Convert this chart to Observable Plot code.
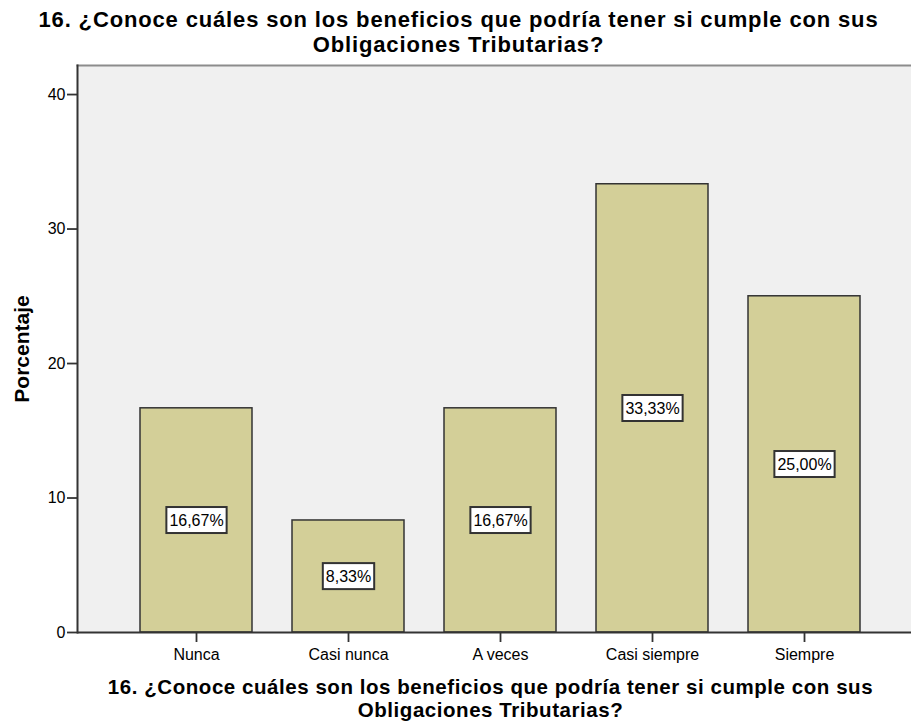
<!DOCTYPE html>
<html>
<head>
<meta charset="utf-8">
<script src="https://cdn.jsdelivr.net/npm/d3@7"></script>
<script src="https://cdn.jsdelivr.net/npm/@observablehq/plot@0.6"></script>
<style>
  html, body { margin: 0; padding: 0; background: #ffffff; }
  #chart svg { display: block; }
  #chart svg g[aria-label="x-axis tick"], #chart svg g[aria-label="y-axis tick"] { stroke: #333333; stroke-width: 1.8; }
</style>
</head>
<body>
<div id="chart"></div>
<script>
const categories = ["Nunca", "Casi nunca", "A veces", "Casi siempre", "Siempre"];
const percentages = [16.67, 8.33, 16.67, 33.33, 25.00];
const yTicks = [0, 10, 20, 30, 40];
const titleLines = ["16. ¿Conoce cuáles son los beneficios que podría tener si cumple con sus", "Obligaciones Tributarias?"];
const yLabel = "Porcentaje";

const data = categories.map((c, i) => ({cat: c, pct: percentages[i]}));
const fmt = v => v.toFixed(2).replace(".", ",") + "%";
const FONT = "'Liberation Sans', Arial, Helvetica, sans-serif";

const chart = Plot.plot({
  width: 911,
  height: 722,
  marginTop: 65,
  marginBottom: 90,
  marginLeft: 77,
  marginRight: 0,
  style: {fontFamily: FONT, fontSize: "16px", background: "#ffffff", color: "#000000"},
  x: {domain: categories, range: [119, 881], paddingInner: 0.26, paddingOuter: 0.13, label: null, tickSize: 10, tickPadding: 6},
  y: {domain: [0, 42.16], ticks: yTicks, label: null, tickSize: 10, tickPadding: 2},
  marks: [
    Plot.frame({fill: "#f0f0f0", stroke: null}),
    Plot.frame({anchor: "top", stroke: "#8c8c8c", strokeWidth: 2}),
    Plot.barY(data, {x: "cat", y: "pct", fill: "#d3cf98", stroke: "#333333", strokeWidth: 1.5}),
    Plot.ruleY([0], {stroke: "#333333", strokeWidth: 2}),
    Plot.frame({anchor: "left", stroke: "#333333", strokeWidth: 2}),
    Plot.text(data, {x: "cat", y: d => d.pct / 2, text: d => fmt(d.pct), fontSize: 16, fill: "#000000"}),
    Plot.text([titleLines[0]], {frameAnchor: "top", lineAnchor: "bottom", dx: -36, dy: -39, fontSize: 22, fontWeight: "bold", fill: "#000000", className: "ttl-top"}),
    Plot.text([titleLines[1]], {frameAnchor: "top", lineAnchor: "bottom", dx: -36, dy: -14, fontSize: 22, fontWeight: "bold", fill: "#000000", className: "ttl-top"}),
    Plot.text([titleLines[0]], {frameAnchor: "bottom", lineAnchor: "bottom", dx: -4, dy: 61, fontSize: 20.5, fontWeight: "bold", fill: "#000000", className: "ttl-bot"}),
    Plot.text([titleLines[1]], {frameAnchor: "bottom", lineAnchor: "bottom", dx: -4, dy: 84, fontSize: 20.5, fontWeight: "bold", fill: "#000000", className: "ttl-bot"}),
    Plot.text([yLabel], {frameAnchor: "left", textAnchor: "middle", dx: -55, rotate: -90, fontSize: 21, fontWeight: "bold", fill: "#000000"})
  ]
});

document.getElementById("chart").appendChild(chart);

// Slight letter spacing for the wide SPSS-style titles
Array.from(chart.querySelectorAll("text"))
  .filter(t => t.textContent.indexOf("Conoce") >= 0 || t.textContent.indexOf("Obligaciones") >= 0)
  .forEach(t => {
    const fs = parseFloat(t.closest("g").getAttribute("font-size") || "20");
    t.setAttribute("letter-spacing", fs > 21 ? "0.85" : "0.55");
  });

// White boxes with dark border behind the percentage labels
const NS = "http://www.w3.org/2000/svg";
Array.from(chart.querySelectorAll("text"))
  .filter(t => /%$/.test(t.textContent.trim()))
  .forEach(t => {
    const b = t.getBBox();
    const r = document.createElementNS(NS, "rect");
    r.setAttribute("x", b.x - 3);
    r.setAttribute("y", b.y - 4.5);
    r.setAttribute("width", b.width + 6);
    r.setAttribute("height", b.height + 9);
    r.setAttribute("fill", "#ffffff");
    r.setAttribute("stroke", "#333333");
    r.setAttribute("stroke-width", "2");
    const tr = t.getAttribute("transform");
    if (tr) r.setAttribute("transform", tr);
    t.parentNode.insertBefore(r, t);
  });
</script>
</body>
</html>
